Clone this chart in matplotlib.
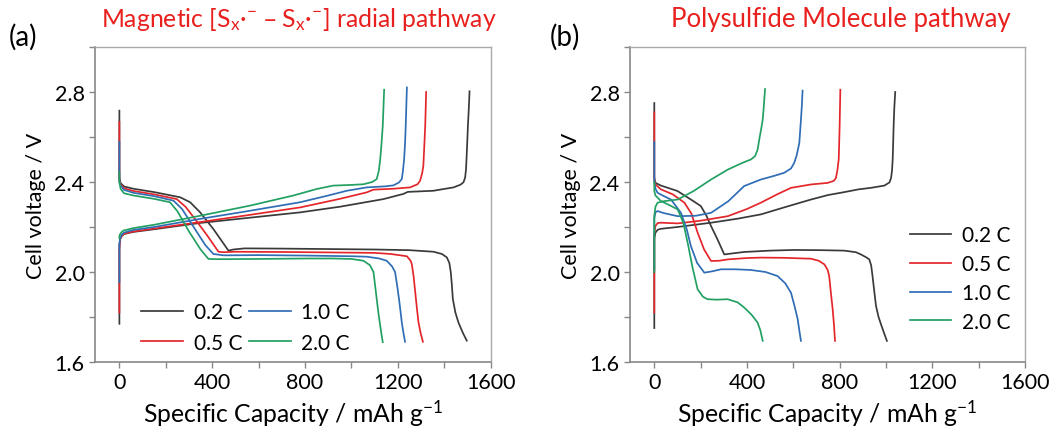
import numpy as np
import matplotlib.pyplot as plt
from matplotlib.ticker import MultipleLocator

plt.rcParams['font.family'] = ['Lato', 'DejaVu Sans']
plt.rcParams['mathtext.default'] = 'regular'

rates = ['0.2 C', '0.5 C', '1.0 C', '2.0 C']
colors = ['#3a3a3a', '#e4262b', '#2f6db5', '#22a062']

# panel (a) - discharge / charge curves (capacity mAh/g, voltage V)
a_02_dis_cap = [0, 0, 0, 5, 20, 60, 150, 262, 305, 348, 405, 470, 491, 540, 700, 900, 1100, 1250, 1354, 1390, 1411,
                1422, 1428, 1433, 1437, 1448, 1461, 1480, 1497]
a_02_dis_v = [2.717, 2.55, 2.42, 2.395, 2.38, 2.37, 2.355, 2.332, 2.31, 2.265, 2.191, 2.095, 2.10, 2.105, 2.104, 2.102,
              2.10, 2.097, 2.09, 2.08, 2.065, 2.04, 2.0, 1.94, 1.88, 1.82, 1.776, 1.73, 1.695]
a_02_chg_cap = [0, 0, 0, 3, 10, 20, 60, 150, 348, 550, 779, 950, 1138, 1224, 1243, 1353, 1440, 1470, 1483, 1490, 1494,
                1498, 1502, 1506, 1509]
a_02_chg_v = [1.77, 2.0, 2.12, 2.147, 2.16, 2.169, 2.178, 2.19, 2.218, 2.24, 2.265, 2.29, 2.324, 2.347, 2.356, 2.361,
              2.376, 2.388, 2.399, 2.42, 2.458, 2.55, 2.65, 2.73, 2.803]

a_05_dis_cap = [0, 0, 0, 5, 20, 60, 150, 247, 285, 330, 380, 427, 450, 500, 700, 900, 1100, 1170, 1239, 1255, 1260,
                1268, 1275, 1282, 1289, 1298, 1308]
a_05_dis_v = [2.667, 2.5, 2.41, 2.39, 2.372, 2.36, 2.345, 2.324, 2.29, 2.23, 2.16, 2.09, 2.088, 2.09, 2.089, 2.087,
              2.085, 2.08, 2.07, 2.05, 2.036, 1.98, 1.91, 1.84, 1.776, 1.73, 1.69]
a_05_chg_cap = [0, 0, 3, 10, 20, 60, 150, 348, 550, 779, 950, 1066, 1095, 1180, 1253, 1285, 1296, 1305, 1310, 1314,
                1318, 1322]
a_05_chg_v = [1.82, 2.1, 2.145, 2.16, 2.17, 2.18, 2.193, 2.222, 2.252, 2.287, 2.325, 2.354, 2.366, 2.37, 2.376, 2.39,
              2.406, 2.44, 2.473, 2.56, 2.65, 2.80]

a_10_dis_cap = [0, 0, 0, 5, 20, 60, 150, 233, 270, 320, 370, 405, 450, 600, 800, 1000, 1066, 1120, 1152, 1175, 1188,
                1197, 1205, 1211, 1217, 1224, 1231]
a_10_dis_v = [2.578, 2.45, 2.40, 2.385, 2.365, 2.352, 2.337, 2.317, 2.28, 2.20, 2.12, 2.08, 2.074, 2.075, 2.073, 2.07,
              2.068, 2.06, 2.05, 2.025, 2.0, 1.94, 1.88, 1.83, 1.776, 1.73, 1.69]
a_10_chg_cap = [0, 0, 3, 10, 20, 60, 150, 348, 550, 779, 900, 980, 1066, 1150, 1181, 1205, 1217, 1222, 1227, 1231,
                1234, 1239]
a_10_chg_v = [1.955, 2.12, 2.15, 2.165, 2.175, 2.187, 2.2, 2.236, 2.27, 2.31, 2.34, 2.361, 2.376, 2.381, 2.385, 2.398,
              2.413, 2.45, 2.50, 2.57, 2.65, 2.82]

a_20_dis_cap = [0, 0, 5, 20, 60, 150, 218, 250, 300, 350, 384, 420, 600, 800, 922, 1000, 1052, 1080, 1095, 1102, 1109,
                1116, 1124, 1130, 1135]
a_20_dis_v = [2.445, 2.40, 2.37, 2.35, 2.34, 2.325, 2.31, 2.27, 2.18, 2.10, 2.058, 2.057, 2.058, 2.06, 2.06, 2.058,
              2.05, 2.03, 2.0, 1.94, 1.88, 1.82, 1.761, 1.72, 1.688]
a_20_chg_cap = [0, 0, 3, 10, 17, 60, 150, 348, 563, 750, 851, 922, 1000, 1052, 1090, 1109, 1118, 1124, 1130, 1135, 1141]
a_20_chg_v = [2.15, 2.16, 2.168, 2.178, 2.184, 2.195, 2.21, 2.25, 2.295, 2.34, 2.369, 2.384, 2.387, 2.39, 2.40, 2.413,
              2.45, 2.50, 2.575, 2.65, 2.81]

# panel (b)
b_02_dis_cap = [0, 0, 0, 5, 29, 100, 158, 201, 225, 245, 275, 302, 340, 388, 500, 604, 720, 820, 870, 892, 915, 928,
                936, 942, 950, 957, 968, 981, 993, 1004]
b_02_dis_v = [2.751, 2.55, 2.42, 2.396, 2.384, 2.36, 2.322, 2.293, 2.25, 2.204, 2.14, 2.078, 2.083, 2.089, 2.095,
              2.098, 2.097, 2.095, 2.088, 2.078, 2.065, 2.056, 2.03, 1.982, 1.91, 1.849, 1.80, 1.76, 1.725, 1.694]
b_02_chg_cap = [0, 0, 0, 5, 15, 29, 100, 245, 360, 460, 570, 676, 750, 820, 880, 935, 993, 1015, 1022, 1026, 1029,
                1031, 1033, 1036, 1040]
b_02_chg_v = [1.751, 1.95, 2.15, 2.175, 2.188, 2.192, 2.2, 2.219, 2.237, 2.256, 2.29, 2.322, 2.342, 2.355, 2.367,
              2.374, 2.384, 2.398, 2.418, 2.45, 2.50, 2.57, 2.648, 2.73, 2.80]

b_05_dis_cap = [0, 0, 0, 5, 29, 80, 130, 160, 187, 215, 245, 280, 317, 400, 460, 560, 676, 710, 734, 748, 755, 762,
                770, 776, 780]
b_05_dis_v = [2.71, 2.5, 2.41, 2.389, 2.367, 2.345, 2.308, 2.26, 2.175, 2.10, 2.049, 2.05, 2.056, 2.062, 2.064, 2.063,
              2.059, 2.05, 2.034, 2.01, 1.982, 1.91, 1.834, 1.76, 1.694]
b_05_chg_cap = [0, 0, 0, 5, 15, 29, 101, 200, 317, 400, 460, 530, 590, 676, 748, 775, 784, 790, 796, 798, 800, 803]
b_05_chg_v = [1.82, 2.0, 2.17, 2.205, 2.218, 2.219, 2.216, 2.228, 2.248, 2.28, 2.308, 2.345, 2.374, 2.389, 2.396,
              2.405, 2.418, 2.45, 2.50, 2.57, 2.648, 2.81]

b_10_dis_cap = [0, 0, 0, 5, 14, 40, 72, 115, 140, 158, 185, 216, 250, 288, 350, 417, 480, 532, 565, 590, 605, 612,
                619, 626, 633]
b_10_dis_v = [2.578, 2.45, 2.40, 2.37, 2.352, 2.338, 2.322, 2.263, 2.19, 2.115, 2.04, 1.997, 2.003, 2.012, 2.012,
              2.009, 2.0, 1.982, 1.95, 1.908, 1.85, 1.82, 1.79, 1.74, 1.694]
b_10_chg_cap = [0, 0, 0, 5, 14, 40, 101, 180, 245, 320, 388, 460, 520, 561, 590, 604, 615, 626, 633, 637, 640]
b_10_chg_v = [2.01, 2.15, 2.24, 2.265, 2.271, 2.262, 2.248, 2.25, 2.263, 2.315, 2.382, 2.411, 2.428, 2.441, 2.46,
              2.485, 2.52, 2.574, 2.677, 2.74, 2.806]

b_20_dis_cap = [0, 0, 5, 29, 60, 101, 125, 144, 165, 187, 210, 230, 270, 317, 360, 388, 420, 446, 458, 468]
b_20_dis_v = [2.40, 2.36, 2.34, 2.315, 2.30, 2.278, 2.22, 2.13, 2.02, 1.923, 1.89, 1.879, 1.877, 1.879, 1.865, 1.842,
              1.81, 1.775, 1.74, 1.694]
b_20_chg_cap = [0, 0, 0, 5, 14, 43, 101, 170, 245, 317, 380, 417, 435, 446, 455, 462, 468, 473, 478]
b_20_chg_v = [2.0, 2.15, 2.25, 2.29, 2.308, 2.315, 2.322, 2.36, 2.411, 2.455, 2.485, 2.50, 2.515, 2.544, 2.60, 2.64,
              2.677, 2.74, 2.813]

panel_a = [(a_02_dis_cap, a_02_dis_v, a_02_chg_cap, a_02_chg_v),
           (a_05_dis_cap, a_05_dis_v, a_05_chg_cap, a_05_chg_v),
           (a_10_dis_cap, a_10_dis_v, a_10_chg_cap, a_10_chg_v),
           (a_20_dis_cap, a_20_dis_v, a_20_chg_cap, a_20_chg_v)]
panel_b = [(b_02_dis_cap, b_02_dis_v, b_02_chg_cap, b_02_chg_v),
           (b_05_dis_cap, b_05_dis_v, b_05_chg_cap, b_05_chg_v),
           (b_10_dis_cap, b_10_dis_v, b_10_chg_cap, b_10_chg_v),
           (b_20_dis_cap, b_20_dis_v, b_20_chg_cap, b_20_chg_v)]

fig = plt.figure(figsize=(10.57, 4.35), dpi=100)
ax1 = fig.add_axes([0.0899, 0.1655, 0.3743, 0.7242])
ax2 = fig.add_axes([0.596, 0.1655, 0.3737, 0.7242])

for ax, data in [(ax1, panel_a), (ax2, panel_b)]:
    for (dc, dv, cc, cv), lab, col in zip(data, rates, colors):
        ax.plot(dc, dv, color=col, lw=1.25, label=lab)
        ax.plot(cc, cv, color=col, lw=1.25)
    ax.set_xlim(-105, 1600)
    ax.set_ylim(1.6, 3.0)
    ax.xaxis.set_major_locator(MultipleLocator(400))
    ax.xaxis.set_minor_locator(MultipleLocator(200))
    ax.yaxis.set_major_locator(MultipleLocator(0.4))
    ax.yaxis.set_minor_locator(MultipleLocator(0.2))
    ax.yaxis.set_major_formatter(plt.FormatStrFormatter('%.1f'))
    ax.tick_params(which='both', direction='out', length=4, width=1, color='#888888', labelsize=15.5)
    for sp in ['left', 'bottom']:
        ax.spines[sp].set_color('#888888')
        ax.spines[sp].set_linewidth(1.2)
    for sp in ['top', 'right']:
        ax.spines[sp].set_color('#aaaaaa')
        ax.spines[sp].set_linewidth(1.0)
    ax.set_xlabel('Specific Capacity / mAh g$^{-1}$', fontsize=17.8, labelpad=4)
    ax.set_ylabel('Cell voltage / V', fontsize=15.5, labelpad=6)

ax1.legend(ncol=2, loc='lower left', bbox_to_anchor=(0.07, -0.03), frameon=False, fontsize=15,
           handlelength=2.0, columnspacing=0.35, handletextpad=0.5, labelspacing=0.5)
ax2.legend(loc='center right', bbox_to_anchor=(1.01, 0.265), frameon=False, fontsize=15,
           handlelength=2.0, handletextpad=0.5, labelspacing=0.42)

fig.text(0.008, 0.895, '(a)', fontsize=20)
fig.text(0.52, 0.895, '(b)', fontsize=20)
fig.text(0.283, 0.955, r'Magnetic [S$_{x}$·$^{−}$ – S$_{x}$·$^{−}$] radial pathway', fontsize=17.8,
         color='#e8201e', ha='center', va='center')
fig.text(0.795, 0.955, 'Polysulfide Molecule pathway', fontsize=18.5, color='#e8201e', ha='center', va='center')

fig.savefig('out.png', dpi=100)
